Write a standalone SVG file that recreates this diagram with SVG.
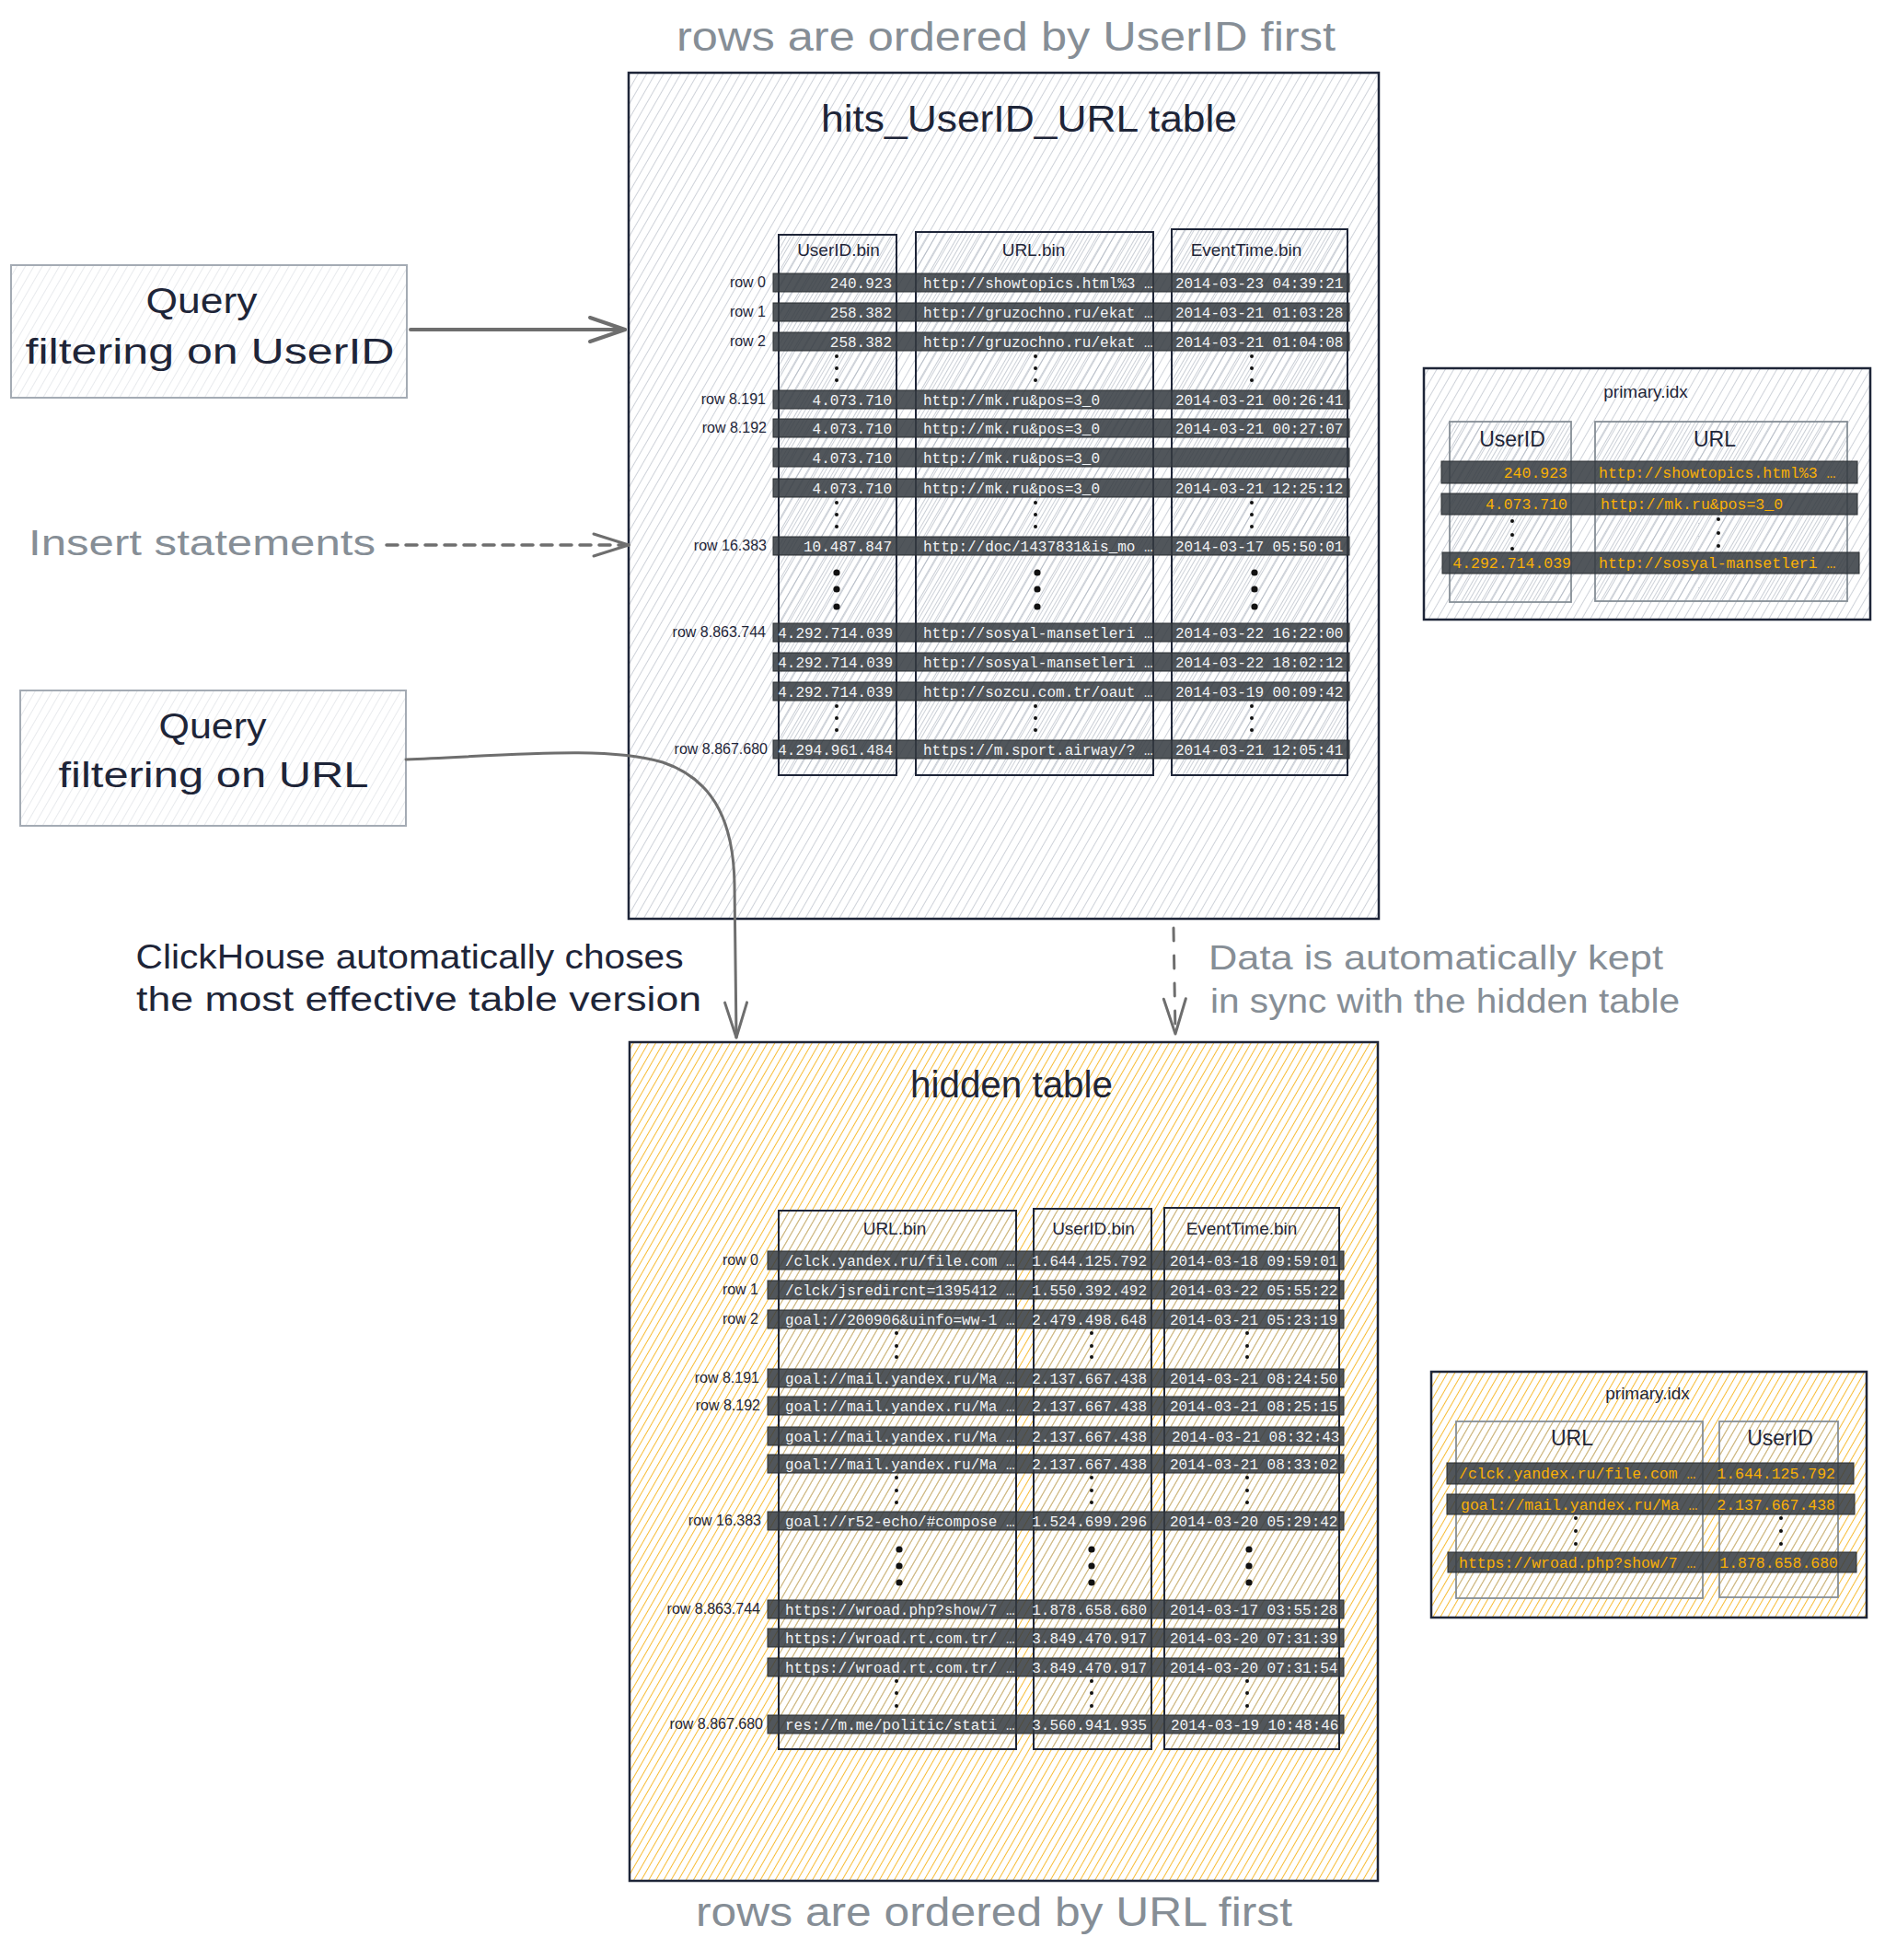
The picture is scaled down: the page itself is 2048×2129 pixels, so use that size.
<svg xmlns="http://www.w3.org/2000/svg" width="2048" height="2129" viewBox="0 0 2048 2129">
<defs>
  <pattern id="hg" patternUnits="userSpaceOnUse" width="8" height="8" patternTransform="rotate(30)">
    <line x1="0" y1="0" x2="0" y2="8" stroke="#b3bac4" stroke-width="1.3"/>
  </pattern>
  <pattern id="hc" patternUnits="userSpaceOnUse" width="7" height="7" patternTransform="rotate(30)">
    <line x1="0" y1="0" x2="0" y2="7" stroke="#aab1bc" stroke-width="1.3"/>
  </pattern>
  <pattern id="hp" patternUnits="userSpaceOnUse" width="8" height="8" patternTransform="rotate(30)">
    <line x1="0" y1="0" x2="0" y2="8" stroke="#d4d8de" stroke-width="1.1"/>
  </pattern>
  <pattern id="hy" patternUnits="userSpaceOnUse" width="7" height="7" patternTransform="rotate(30)">
    <line x1="0" y1="0" x2="0" y2="7" stroke="#f7b92b" stroke-width="1.9"/>
  </pattern>
  <marker id="chev" markerUnits="userSpaceOnUse" viewBox="-45 -22 50 44" refX="0" refY="0" markerWidth="50" markerHeight="44" orient="auto">
    <path d="M-38,-13 L0,0 L-38,13" fill="none" stroke="#6e6e6e" stroke-width="4" stroke-linecap="round" stroke-linejoin="round"/>
  </marker>
  <marker id="chevs" markerUnits="userSpaceOnUse" viewBox="-45 -22 50 44" refX="0" refY="0" markerWidth="50" markerHeight="44" orient="auto">
    <path d="M-38,-12 L0,0 L-38,12" fill="none" stroke="#6e6e6e" stroke-width="3" stroke-linecap="round" stroke-linejoin="round"/>
  </marker>
</defs>
<style>
  .hand { font-family: "Liberation Sans", "DejaVu Sans", sans-serif; }
  .navy { fill: #1e2538; }
  .gray { fill: #868e96; }
  .big { font-size: 44px; }
  .title { font-size: 40px; }
  .lbl { font-size: 38px; }
  .hdr { font-size: 19px; fill: #1e2538; font-family: "Liberation Sans", "DejaVu Sans", sans-serif; }
  .rowl { font-size: 16px; fill: #1e2538; font-family: "Liberation Sans", "DejaVu Sans", sans-serif; text-anchor: end; }
  .mono { font-family: "Liberation Mono", "DejaVu Sans Mono", monospace; font-size: 16px; fill: #f1f3f5; }
  .ymono { font-family: "Liberation Mono", "DejaVu Sans Mono", monospace; font-size: 16.5px; fill: #fab005; }
  .end { text-anchor: end; }
  .mid { text-anchor: middle; }
  .box { stroke: #1e2538; stroke-width: 2.5; }
  .col { fill: url(#hc); stroke: #1e2538; stroke-width: 2; }
  .icol { fill: url(#hc); stroke: #868e96; stroke-width: 1.8; }
  .bar { fill: #343a40; fill-opacity: 0.86; stroke: #2b2f33; stroke-width: 1; }
  .qbox { fill: url(#hp); stroke: #a4abb4; stroke-width: 2; }
  .dot { fill: #111; }
  .conn { fill: none; stroke: #6e6e6e; stroke-linecap: round; }
</style>

<rect width="2048" height="2129" fill="#ffffff"/>

<!-- captions -->
<g id="caption-top">
  <text class="hand gray big mid" x="1093" y="55" textLength="716" lengthAdjust="spacingAndGlyphs">rows are ordered by UserID first</text>
</g>
<g id="caption-bottom">
  <text class="hand gray big mid" x="1080" y="2092" textLength="648" lengthAdjust="spacingAndGlyphs">rows are ordered by URL first</text>
</g>

<!-- Top table -->
<g id="table-userid-url">
  <rect x="683" y="79" width="815" height="919" fill="url(#hg)" class="box"/>
  <text class="hand navy title mid" x="1118" y="143" textLength="452" lengthAdjust="spacingAndGlyphs">hits_UserID_URL table</text>
  <rect class="col" x="846" y="255" width="128" height="587"/>
  <rect class="col" x="995" y="252" width="258" height="590"/>
  <rect class="col" x="1273" y="249" width="191" height="593"/>
  <text class="hdr mid" x="911" y="278">UserID.bin</text>
  <text class="hdr mid" x="1123" y="278">URL.bin</text>
  <text class="hdr mid" x="1354" y="278">EventTime.bin</text>

  <g id="top-rows">
    <rect class="bar" x="840" y="297" width="626" height="20"/>
    <rect class="bar" x="840" y="329" width="626" height="20"/>
    <rect class="bar" x="840" y="361" width="626" height="20"/>
    <rect class="bar" x="840" y="424" width="626" height="20"/>
    <rect class="bar" x="840" y="455" width="626" height="20"/>
    <rect class="bar" x="840" y="487" width="626" height="20"/>
    <rect class="bar" x="840" y="520" width="626" height="20"/>
    <rect class="bar" x="840" y="583" width="626" height="20"/>
    <rect class="bar" x="840" y="677" width="626" height="20"/>
    <rect class="bar" x="840" y="709" width="626" height="20"/>
    <rect class="bar" x="840" y="741" width="626" height="20"/>
    <rect class="bar" x="840" y="804" width="626" height="20"/>

    <text class="rowl" x="832" y="312">row 0</text>
    <text class="rowl" x="832" y="344">row 1</text>
    <text class="rowl" x="832" y="376">row 2</text>
    <text class="rowl" x="832" y="439">row 8.191</text>
    <text class="rowl" x="833" y="470">row 8.192</text>
    <text class="rowl" x="833" y="598">row 16.383</text>
    <text class="rowl" x="832" y="692">row 8.863.744</text>
    <text class="rowl" x="834" y="819">row 8.867.680</text>

    <text class="mono end" x="969" y="312.5">240.923</text>
    <text class="mono end" x="969" y="344.5">258.382</text>
    <text class="mono end" x="969" y="376.5">258.382</text>
    <text class="mono end" x="969" y="439.5">4.073.710</text>
    <text class="mono end" x="969" y="470.5">4.073.710</text>
    <text class="mono end" x="969" y="502.5">4.073.710</text>
    <text class="mono end" x="969" y="535.5">4.073.710</text>
    <text class="mono end" x="969" y="598.5">10.487.847</text>
    <text class="mono end" x="970" y="692.5">4.292.714.039</text>
    <text class="mono end" x="970" y="724.5">4.292.714.039</text>
    <text class="mono end" x="970" y="756.5">4.292.714.039</text>
    <text class="mono end" x="970" y="819.5">4.294.961.484</text>

    <text class="mono" x="1003" y="312.5">http://showtopics.html%3 …</text>
    <text class="mono" x="1003" y="344.5">http://gruzochno.ru/ekat …</text>
    <text class="mono" x="1003" y="376.5">http://gruzochno.ru/ekat …</text>
    <text class="mono" x="1003" y="439.5">http://mk.ru&amp;pos=3_0</text>
    <text class="mono" x="1003" y="470.5">http://mk.ru&amp;pos=3_0</text>
    <text class="mono" x="1003" y="502.5">http://mk.ru&amp;pos=3_0</text>
    <text class="mono" x="1003" y="535.5">http://mk.ru&amp;pos=3_0</text>
    <text class="mono" x="1003" y="598.5">http://doc/1437831&amp;is_mo …</text>
    <text class="mono" x="1003" y="692.5">http://sosyal-mansetleri …</text>
    <text class="mono" x="1003" y="724.5">http://sosyal-mansetleri …</text>
    <text class="mono" x="1003" y="756.5">http://sozcu.com.tr/oaut …</text>
    <text class="mono" x="1003" y="819.5">https://m.sport.airway/? …</text>

    <text class="mono" x="1277" y="312.5">2014-03-23 04:39:21</text>
    <text class="mono" x="1277" y="344.5">2014-03-21 01:03:28</text>
    <text class="mono" x="1277" y="376.5">2014-03-21 01:04:08</text>
    <text class="mono" x="1277" y="439.5">2014-03-21 00:26:41</text>
    <text class="mono" x="1277" y="470.5">2014-03-21 00:27:07</text>
    <text class="mono" x="1277" y="535.5">2014-03-21 12:25:12</text>
    <text class="mono" x="1277" y="598.5">2014-03-17 05:50:01</text>
    <text class="mono" x="1277" y="692.5">2014-03-22 16:22:00</text>
    <text class="mono" x="1277" y="724.5">2014-03-22 18:02:12</text>
    <text class="mono" x="1277" y="756.5">2014-03-19 00:09:42</text>
    <text class="mono" x="1277" y="819.5">2014-03-21 12:05:41</text>
  </g>
  <g id="top-dots">
    <circle class="dot" cx="909" cy="387" r="2"/><circle class="dot" cx="909" cy="400" r="2"/><circle class="dot" cx="909" cy="413" r="2"/>
    <circle class="dot" cx="1125" cy="387" r="2"/><circle class="dot" cx="1125" cy="400" r="2"/><circle class="dot" cx="1125" cy="413" r="2"/>
    <circle class="dot" cx="1360" cy="387" r="2"/><circle class="dot" cx="1360" cy="400" r="2"/><circle class="dot" cx="1360" cy="413" r="2"/>
    <circle class="dot" cx="909" cy="546" r="2"/><circle class="dot" cx="909" cy="559" r="2"/><circle class="dot" cx="909" cy="572" r="2"/>
    <circle class="dot" cx="1125" cy="546" r="2"/><circle class="dot" cx="1125" cy="559" r="2"/><circle class="dot" cx="1125" cy="572" r="2"/>
    <circle class="dot" cx="1360" cy="546" r="2"/><circle class="dot" cx="1360" cy="559" r="2"/><circle class="dot" cx="1360" cy="572" r="2"/>
    <circle class="dot" cx="909" cy="622" r="3.6"/><circle class="dot" cx="909" cy="640" r="3.6"/><circle class="dot" cx="909" cy="659" r="3.6"/>
    <circle class="dot" cx="1127" cy="622" r="3.6"/><circle class="dot" cx="1127" cy="640" r="3.6"/><circle class="dot" cx="1127" cy="659" r="3.6"/>
    <circle class="dot" cx="1363" cy="622" r="3.6"/><circle class="dot" cx="1363" cy="640" r="3.6"/><circle class="dot" cx="1363" cy="659" r="3.6"/>
    <circle class="dot" cx="909" cy="767" r="2"/><circle class="dot" cx="909" cy="780" r="2"/><circle class="dot" cx="909" cy="793" r="2"/>
    <circle class="dot" cx="1125" cy="767" r="2"/><circle class="dot" cx="1125" cy="780" r="2"/><circle class="dot" cx="1125" cy="793" r="2"/>
    <circle class="dot" cx="1360" cy="767" r="2"/><circle class="dot" cx="1360" cy="780" r="2"/><circle class="dot" cx="1360" cy="793" r="2"/>
  </g>
</g>

<!-- Top primary index -->
<g id="primary-idx-top">
  <rect x="1547" y="400" width="485" height="273" fill="url(#hg)" class="box"/>
  <text class="hdr mid" x="1788" y="432">primary.idx</text>
  <rect class="icol" x="1575" y="458" width="132" height="196"/>
  <rect class="icol" x="1733" y="458" width="274" height="195"/>
  <text class="hand navy mid" font-size="23" x="1643" y="485">UserID</text>
  <text class="hand navy mid" font-size="23" x="1863" y="485">URL</text>
  <rect class="bar" x="1566" y="501" width="452" height="24"/>
  <rect class="bar" x="1566" y="536" width="452" height="23"/>
  <rect class="bar" x="1567" y="600" width="453" height="23"/>
  <text class="ymono end" x="1703" y="519">240.923</text>
  <text class="ymono end" x="1703" y="553">4.073.710</text>
  <text class="ymono end" x="1707" y="617">4.292.714.039</text>
  <text class="ymono" x="1737" y="519">http://showtopics.html%3 …</text>
  <text class="ymono" x="1739" y="553">http://mk.ru&amp;pos=3_0</text>
  <text class="ymono" x="1737" y="617">http://sosyal-mansetleri …</text>
  <circle class="dot" cx="1643" cy="566" r="2"/><circle class="dot" cx="1643" cy="581" r="2"/><circle class="dot" cx="1643" cy="596" r="2"/>
  <circle class="dot" cx="1867" cy="564" r="2"/><circle class="dot" cx="1867" cy="579" r="2"/><circle class="dot" cx="1867" cy="593" r="2"/>
</g>

<!-- Left nodes -->
<g id="query-userid">
  <rect class="qbox" x="12" y="288" width="430" height="144"/>
  <text class="hand navy lbl mid" x="219" y="340" textLength="121" lengthAdjust="spacingAndGlyphs">Query</text>
  <text class="hand navy lbl mid" x="228" y="395" textLength="401" lengthAdjust="spacingAndGlyphs">filtering on UserID</text>
</g>
<g id="insert-statements">
  <text class="hand gray lbl" x="31" y="603" textLength="377" lengthAdjust="spacingAndGlyphs">Insert statements</text>
</g>
<g id="query-url">
  <rect class="qbox" x="22" y="750" width="419" height="147"/>
  <text class="hand navy lbl mid" x="231" y="802" textLength="117" lengthAdjust="spacingAndGlyphs">Query</text>
  <text class="hand navy lbl mid" x="232" y="855" textLength="337" lengthAdjust="spacingAndGlyphs">filtering on URL</text>
</g>
<g id="note-clickhouse">
  <text class="hand navy mid" font-size="36" x="445" y="1052" textLength="595" lengthAdjust="spacingAndGlyphs">ClickHouse automatically choses</text>
  <text class="hand navy mid" font-size="36" x="455" y="1098" textLength="614" lengthAdjust="spacingAndGlyphs">the most effective table version</text>
</g>
<g id="note-sync">
  <text class="hand gray" font-size="36" x="1313" y="1053" textLength="494" lengthAdjust="spacingAndGlyphs">Data is automatically kept</text>
  <text class="hand gray" font-size="36" x="1315" y="1100" textLength="510" lengthAdjust="spacingAndGlyphs">in sync with the hidden table</text>
</g>

<!-- Bottom hidden table -->
<g id="hidden-table">
  <rect x="684" y="1132" width="813" height="911" fill="url(#hy)" class="box"/>
  <text class="hand navy title mid" x="1099" y="1192" textLength="220" lengthAdjust="spacingAndGlyphs">hidden table</text>
  <rect class="col" x="846" y="1315" width="258" height="585"/>
  <rect class="col" x="1123" y="1313" width="128" height="587"/>
  <rect class="col" x="1265" y="1312" width="190" height="588"/>
  <text class="hdr mid" x="972" y="1341">URL.bin</text>
  <text class="hdr mid" x="1188" y="1341">UserID.bin</text>
  <text class="hdr mid" x="1349" y="1341">EventTime.bin</text>

  <g id="bottom-rows">
    <rect class="bar" x="834" y="1359" width="626" height="20"/>
    <rect class="bar" x="834" y="1391" width="626" height="20"/>
    <rect class="bar" x="834" y="1423" width="626" height="20"/>
    <rect class="bar" x="834" y="1487" width="626" height="20"/>
    <rect class="bar" x="834" y="1517" width="626" height="20"/>
    <rect class="bar" x="834" y="1550" width="626" height="20"/>
    <rect class="bar" x="834" y="1580" width="626" height="20"/>
    <rect class="bar" x="834" y="1642" width="626" height="20"/>
    <rect class="bar" x="834" y="1738" width="626" height="20"/>
    <rect class="bar" x="834" y="1769" width="626" height="20"/>
    <rect class="bar" x="834" y="1801" width="626" height="20"/>
    <rect class="bar" x="834" y="1863" width="626" height="20"/>

    <text class="rowl" x="824" y="1374">row 0</text>
    <text class="rowl" x="824" y="1406">row 1</text>
    <text class="rowl" x="824" y="1438">row 2</text>
    <text class="rowl" x="825" y="1502">row 8.191</text>
    <text class="rowl" x="826" y="1532">row 8.192</text>
    <text class="rowl" x="827" y="1657">row 16.383</text>
    <text class="rowl" x="826" y="1753">row 8.863.744</text>
    <text class="rowl" x="829" y="1878">row 8.867.680</text>

    <text class="mono" x="853" y="1374.5">/clck.yandex.ru/file.com …</text>
    <text class="mono" x="853" y="1406.5">/clck/jsredircnt=1395412 …</text>
    <text class="mono" x="853" y="1438.5">goal://200906&amp;uinfo=ww-1 …</text>
    <text class="mono" x="853" y="1502.5">goal://mail.yandex.ru/Ma …</text>
    <text class="mono" x="853" y="1532.5">goal://mail.yandex.ru/Ma …</text>
    <text class="mono" x="853" y="1565.5">goal://mail.yandex.ru/Ma …</text>
    <text class="mono" x="853" y="1595.5">goal://mail.yandex.ru/Ma …</text>
    <text class="mono" x="853" y="1657.5">goal://r52-echo/#compose …</text>
    <text class="mono" x="853" y="1753.5">https://wroad.php?show/7 …</text>
    <text class="mono" x="853" y="1784.5">https://wroad.rt.com.tr/ …</text>
    <text class="mono" x="853" y="1816.5">https://wroad.rt.com.tr/ …</text>
    <text class="mono" x="853" y="1878.5">res://m.me/politic/stati …</text>

    <text class="mono end" x="1246" y="1374.5">1.644.125.792</text>
    <text class="mono end" x="1246" y="1406.5">1.550.392.492</text>
    <text class="mono end" x="1246" y="1438.5">2.479.498.648</text>
    <text class="mono end" x="1246" y="1502.5">2.137.667.438</text>
    <text class="mono end" x="1246" y="1532.5">2.137.667.438</text>
    <text class="mono end" x="1246" y="1565.5">2.137.667.438</text>
    <text class="mono end" x="1246" y="1595.5">2.137.667.438</text>
    <text class="mono end" x="1246" y="1657.5">1.524.699.296</text>
    <text class="mono end" x="1246" y="1753.5">1.878.658.680</text>
    <text class="mono end" x="1246" y="1784.5">3.849.470.917</text>
    <text class="mono end" x="1246" y="1816.5">3.849.470.917</text>
    <text class="mono end" x="1246" y="1878.5">3.560.941.935</text>

    <text class="mono" x="1271" y="1374.5">2014-03-18 09:59:01</text>
    <text class="mono" x="1271" y="1406.5">2014-03-22 05:55:22</text>
    <text class="mono" x="1271" y="1438.5">2014-03-21 05:23:19</text>
    <text class="mono" x="1271" y="1502.5">2014-03-21 08:24:50</text>
    <text class="mono" x="1271" y="1532.5">2014-03-21 08:25:15</text>
    <text class="mono" x="1273" y="1565.5">2014-03-21 08:32:43</text>
    <text class="mono" x="1271" y="1595.5">2014-03-21 08:33:02</text>
    <text class="mono" x="1271" y="1657.5">2014-03-20 05:29:42</text>
    <text class="mono" x="1271" y="1753.5">2014-03-17 03:55:28</text>
    <text class="mono" x="1271" y="1784.5">2014-03-20 07:31:39</text>
    <text class="mono" x="1271" y="1816.5">2014-03-20 07:31:54</text>
    <text class="mono" x="1272" y="1878.5">2014-03-19 10:48:46</text>
  </g>
  <g id="bottom-dots">
    <circle class="dot" cx="974" cy="1448" r="2"/><circle class="dot" cx="974" cy="1462" r="2"/><circle class="dot" cx="974" cy="1474" r="2"/>
    <circle class="dot" cx="1186" cy="1448" r="2"/><circle class="dot" cx="1186" cy="1462" r="2"/><circle class="dot" cx="1186" cy="1474" r="2"/>
    <circle class="dot" cx="1355" cy="1448" r="2"/><circle class="dot" cx="1355" cy="1462" r="2"/><circle class="dot" cx="1355" cy="1474" r="2"/>
    <circle class="dot" cx="974" cy="1605" r="2"/><circle class="dot" cx="974" cy="1619" r="2"/><circle class="dot" cx="974" cy="1632" r="2"/>
    <circle class="dot" cx="1186" cy="1605" r="2"/><circle class="dot" cx="1186" cy="1619" r="2"/><circle class="dot" cx="1186" cy="1632" r="2"/>
    <circle class="dot" cx="1355" cy="1605" r="2"/><circle class="dot" cx="1355" cy="1619" r="2"/><circle class="dot" cx="1355" cy="1632" r="2"/>
    <circle class="dot" cx="977" cy="1683" r="3.6"/><circle class="dot" cx="977" cy="1701" r="3.6"/><circle class="dot" cx="977" cy="1719" r="3.6"/>
    <circle class="dot" cx="1186" cy="1683" r="3.6"/><circle class="dot" cx="1186" cy="1701" r="3.6"/><circle class="dot" cx="1186" cy="1719" r="3.6"/>
    <circle class="dot" cx="1357" cy="1683" r="3.6"/><circle class="dot" cx="1357" cy="1701" r="3.6"/><circle class="dot" cx="1357" cy="1719" r="3.6"/>
    <circle class="dot" cx="974" cy="1826" r="2"/><circle class="dot" cx="974" cy="1839" r="2"/><circle class="dot" cx="974" cy="1853" r="2"/>
    <circle class="dot" cx="1186" cy="1826" r="2"/><circle class="dot" cx="1186" cy="1839" r="2"/><circle class="dot" cx="1186" cy="1853" r="2"/>
    <circle class="dot" cx="1355" cy="1826" r="2"/><circle class="dot" cx="1355" cy="1839" r="2"/><circle class="dot" cx="1355" cy="1853" r="2"/>
  </g>
</g>

<!-- Bottom primary index -->
<g id="primary-idx-bottom">
  <rect x="1555" y="1490" width="473" height="267" fill="url(#hy)" class="box"/>
  <text class="hdr mid" x="1790" y="1520">primary.idx</text>
  <rect class="icol" x="1582" y="1544" width="268" height="192"/>
  <rect class="icol" x="1868" y="1544" width="129" height="191"/>
  <text class="hand navy mid" font-size="23" x="1708" y="1570">URL</text>
  <text class="hand navy mid" font-size="23" x="1934" y="1570">UserID</text>
  <rect class="bar" x="1572" y="1589" width="442" height="23"/>
  <rect class="bar" x="1572" y="1623" width="443" height="22"/>
  <rect class="bar" x="1573" y="1686" width="444" height="22"/>
  <text class="ymono" x="1585" y="1606">/clck.yandex.ru/file.com …</text>
  <text class="ymono" x="1587" y="1640">goal://mail.yandex.ru/Ma …</text>
  <text class="ymono" x="1585" y="1703">https://wroad.php?show/7 …</text>
  <text class="ymono end" x="1994" y="1606">1.644.125.792</text>
  <text class="ymono end" x="1994" y="1640">2.137.667.438</text>
  <text class="ymono end" x="1997" y="1703">1.878.658.680</text>
  <circle class="dot" cx="1712" cy="1649" r="2"/><circle class="dot" cx="1712" cy="1663" r="2"/><circle class="dot" cx="1712" cy="1677" r="2"/>
  <circle class="dot" cx="1935" cy="1649" r="2"/><circle class="dot" cx="1935" cy="1663" r="2"/><circle class="dot" cx="1935" cy="1677" r="2"/>
</g>

<!-- Connectors -->
<g id="connectors">
  <line id="c-query-userid" class="conn" x1="446" y1="358" x2="679" y2="358" stroke-width="4" marker-end="url(#chev)"/>
  <line id="c-insert" class="conn" x1="420" y1="592" x2="683" y2="592" stroke-width="3.5" stroke-dasharray="12 9" marker-end="url(#chevs)"/>
  <path id="c-query-url" class="conn" d="M441,825 C 560,820 660,810 720,828 C 780,848 797,900 798,960 L 800,1127" stroke-width="3" marker-end="url(#chevs)"/>
  <line id="c-sync" class="conn" x1="1275" y1="1008" x2="1277" y2="1123" stroke-width="3" stroke-dasharray="14 16" marker-end="url(#chevs)"/>
</g>
</svg>
